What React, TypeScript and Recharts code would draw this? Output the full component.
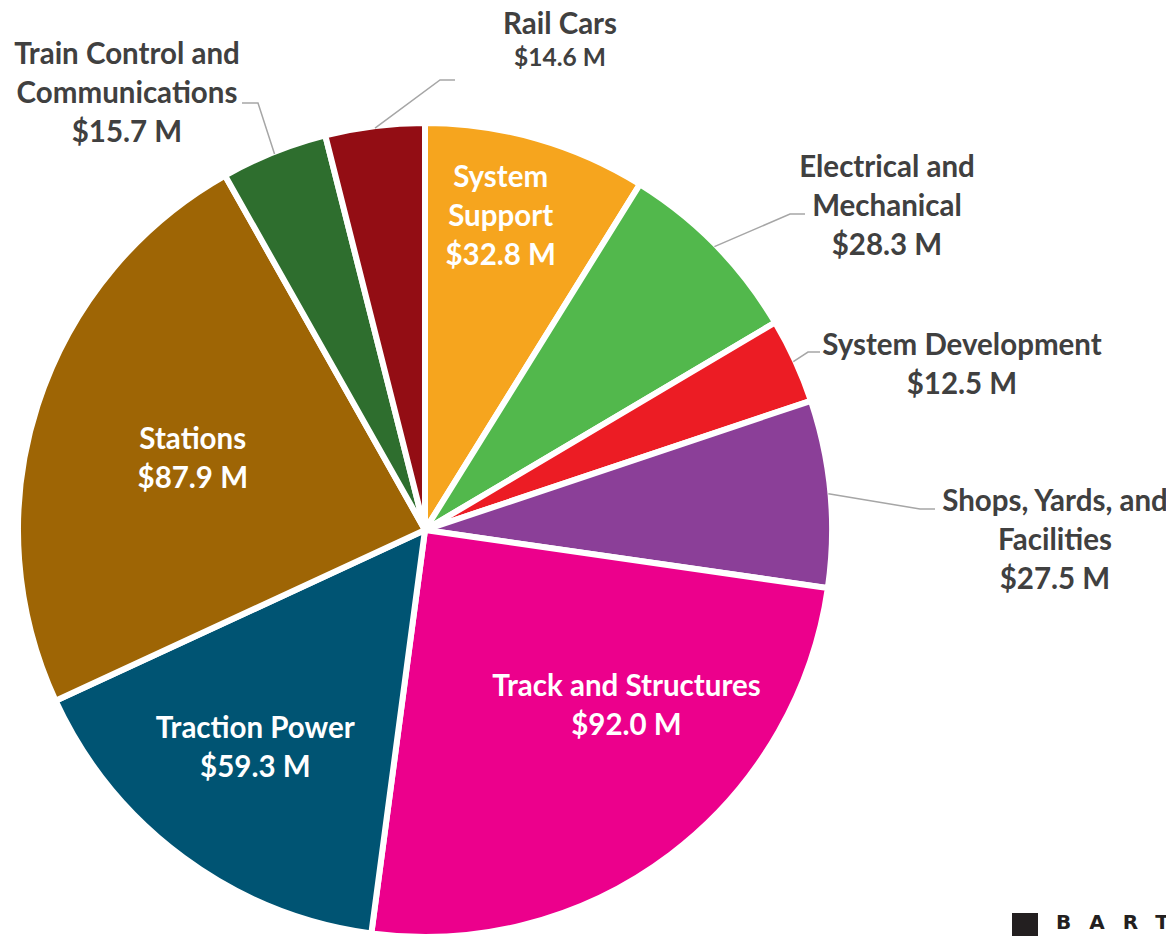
import React from "react";
import { PieChart, Pie, Cell } from "recharts";

const categories = [
  "System Support",
  "Electrical and Mechanical",
  "System Development",
  "Shops, Yards, and Facilities",
  "Track and Structures",
  "Traction Power",
  "Stations",
  "Train Control and Communications",
  "Rail Cars",
];
const amounts = [32.8, 28.3, 12.5, 27.5, 92.0, 59.3, 87.9, 15.7, 14.6];
const colors = ["#F6A51E", "#52B84C", "#EC1C24", "#8B3F98", "#EC008C", "#005473", "#9E6505", "#2E6E2E", "#930D14"];

// how each label is broken into lines
const labelLines = [
  ["System", "Support"],
  ["Electrical and", "Mechanical"],
  ["System Development"],
  ["Shops, Yards, and", "Facilities"],
  ["Track and Structures"],
  ["Traction Power"],
  ["Stations"],
  ["Train Control and", "Communications"],
  ["Rail Cars"],
];

const data = categories.map((name, i) => ({ name, value: amounts[i] }));

// label placement: inside labels use radius + nudge, outside labels use elbow + text block (offsets from centre)
type Layout =
  | { kind: "in"; r: number; nudge: [number, number] }
  | { kind: "out"; elbow: [number, number]; tail: number; text: [number, number]; small?: boolean };

const layout: Layout[] = [
  { kind: "in", r: 323, nudge: [-13, -4] },
  { kind: "out", elbow: [365, -316], tail: 15, text: [462, -364] },
  { kind: "out", elbow: [383, -178], tail: 12, text: [537, -186] },
  { kind: "out", elbow: [495, -21], tail: 15, text: [630, -30] },
  { kind: "in", r: 266, nudge: [41, -37] },
  { kind: "in", r: 276, nudge: [-6, -5] },
  { kind: "in", r: 244, nudge: [0, 3] },
  { kind: "out", elbow: [-167, -427], tail: -16, text: [-298, -477] },
  { kind: "out", elbow: [15, -450], tail: 15, text: [135, -507], small: true },
];

const FONT = "Lato, 'Noto Sans', sans-serif";
const FS = 29.5;
const CAP = 0.36; // half cap height of Lato, in em
const RAD = Math.PI / 180;
const LINE = 39;

function renderLabel(props: any) {
  const { cx, cy, midAngle, outerRadius, index } = props;
  const L = layout[index];
  const lines = [...labelLines[index], `$${amounts[index].toFixed(1)} M`];
  if (L.kind === "in") {
    const x = cx + L.r * Math.cos(-midAngle * RAD) + L.nudge[0];
    const y = cy + L.r * Math.sin(-midAngle * RAD) + L.nudge[1];
    const top = y - ((lines.length - 1) * LINE) / 2;
    return (
      <text key={`l${index}`} fill="#fff" fontFamily={FONT} fontWeight={700} fontSize={FS} textAnchor="middle">
        {lines.map((t, j) => (
          <tspan key={j} x={x} y={top + j * LINE + CAP * FS}>
            {t}
          </tspan>
        ))}
      </text>
    );
  }
  const sx = cx + (outerRadius - 2) * Math.cos(-midAngle * RAD);
  const sy = cy + (outerRadius - 2) * Math.sin(-midAngle * RAD);
  const ex = cx + L.elbow[0];
  const ey = cy + L.elbow[1];
  const tx = cx + L.text[0];
  const ty = cy + L.text[1];
  const gap = L.small ? 34 : LINE;
  return (
    <g key={`l${index}`}>
      <polyline points={`${sx},${sy} ${ex},${ey} ${ex + L.tail},${ey}`} fill="none" stroke="#A6A6A6" strokeWidth={1.5} />
      <text fill="#404040" fontFamily={FONT} fontWeight={700} textAnchor="middle">
        {lines.map((t, j) => {
          const fs = L.small && j === lines.length - 1 ? 24.5 : FS;
          return (
            <tspan key={j} x={tx} y={ty + j * gap + CAP * fs} fontSize={fs}>
              {t}
            </tspan>
          );
        })}
      </text>
    </g>
  );
}

export default function App() {
  return (
    <div style={{ position: "relative", width: 1166, height: 936, overflow: "hidden", background: "#fff" }}>
      <style>{`body{margin:0;overflow:hidden}`}</style>
      <PieChart width={1166} height={936} margin={{ top: 0, right: 0, bottom: 0, left: 0 }}>
        <Pie
          data={data}
          dataKey="value"
          nameKey="name"
          cx={425}
          cy={530}
          outerRadius={407}
          startAngle={90}
          endAngle={-270}
          stroke="#fff"
          strokeWidth={6}
          label={renderLabel}
          labelLine={false}
          isAnimationActive={false}
        >
          {data.map((d, i) => (
            <Cell key={d.name} fill={colors[i]} />
          ))}
        </Pie>
      </PieChart>
      <div style={{ position: "absolute", left: 1012, top: 913, width: 26, height: 26, background: "#231F20" }} />
      <div
        style={{
          position: "absolute",
          left: 1056,
          top: 910,
          fontFamily: "'DejaVu Sans', sans-serif",
          fontWeight: 900,
          fontSize: 20,
          letterSpacing: 18,
          color: "#231F20",
          whiteSpace: "nowrap",
        }}
      >
        BART
      </div>
    </div>
  );
}
